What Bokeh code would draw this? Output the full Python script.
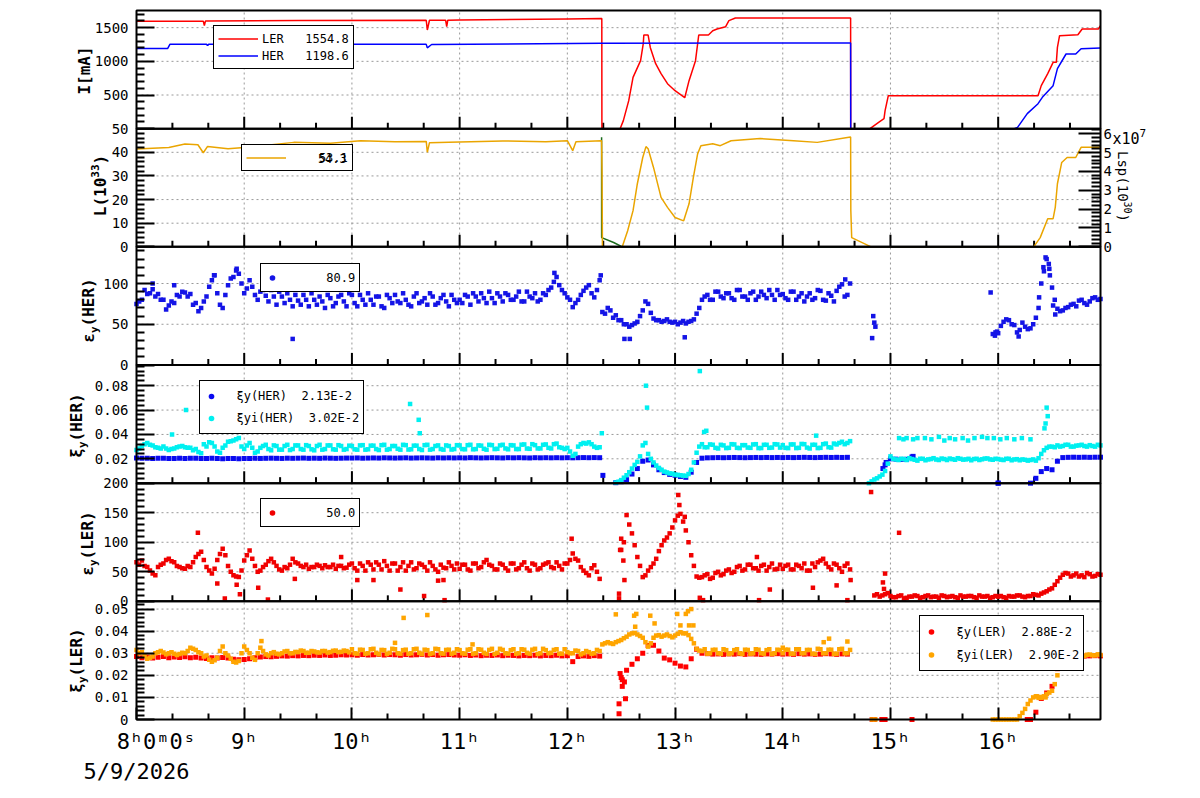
import math
import numpy as np
from bokeh.plotting import figure
from bokeh.models import (Range1d, LinearAxis, FixedTicker, Label, Legend, LegendItem,
                          BoxAnnotation)
from bokeh.embed import file_html
from bokeh.resources import INLINE

nan = float("nan")

# ---------------------------------------------------------------- data
# sampling clocks of the optics monitors (hours of the day, two interleaved readouts)
T_GRID = [round(8.0 + 0.05 * i, 2) for i in range(180)]
T_GRID_B = [round(8.025 + 0.05 * i, 3) for i in range(180)]

# beam currents [mA] (vertices)
I_LER_T = [8.00, 8.62, 8.63, 8.64, 9.50, 10.69, 10.70, 10.72, 10.87, 10.88, 10.89, 11.00,
           12.00, 12.32, 12.321, 12.49, 12.52, 12.57, 12.61, 12.68, 12.705, 12.71, 12.75,
           12.77, 12.82, 12.87, 12.93, 13.00, 13.09, 13.13, 13.19, 13.22, 13.31, 13.35,
           13.39, 13.47, 13.50, 13.56, 14.63, 14.631, 14.81, 14.89, 14.94, 14.95, 14.98,
           16.37, 16.40, 16.46, 16.51, 16.54, 16.55, 16.57, 16.74, 16.78, 16.93, 16.95]
I_LER = [1595, 1597, 1530, 1598, 1605, 1610, 1465, 1610, 1612, 1515, 1612, 1615,
         1630, 1635, 0, 0, 119, 416, 762, 1010, 1262, 1391, 1391,
         1207, 965, 817, 668, 564, 460, 713, 1010, 1391, 1391, 1455,
         1480, 1515, 1604, 1644, 1644, 0, 0, 94, 148, 267, 490,
         490, 639, 817, 985, 985, 1207, 1381, 1396, 1480, 1480, 1530]
I_HER_T = [8.00, 8.29, 8.31, 8.65, 8.66, 8.67, 10.69, 10.70, 10.74, 12.32, 14.63, 14.631,
           16.15, 16.18, 16.27, 16.37, 16.41, 16.51, 16.55, 16.63, 16.72, 16.77, 16.95]
I_HER = [1192, 1192, 1252, 1252, 1235, 1252, 1252, 1200, 1250, 1268, 1272, 0,
         0, 19, 223, 371, 465, 639, 891, 1109, 1109, 1188, 1198]

# luminosity L [1e33] and Lsp [1e37]
L_T = [8.00, 8.30, 8.45, 8.57, 8.62, 8.66, 8.85, 9.00, 9.02, 9.10,
       9.46, 9.80, 10.08, 10.40, 10.69, 10.70, 10.72, 10.90, 11.40, 11.80,
       12.00, 12.05, 12.08, 12.318, 12.322, 12.326, 12.51, 12.56, 12.61, 12.65,
       12.70, 12.73, 12.75, 12.80, 12.87, 12.93, 13.00, 13.08, 13.13, 13.17,
       13.21, 13.24, 13.35, 13.42, 13.52, 13.79, 14.10, 14.32, 14.60, 14.63,
       14.632, 14.64, 14.82, 16.33, 16.39, 16.46, 16.51, 16.53, 16.55, 16.59,
       16.64, 16.72, 16.77, 16.93, 16.95]
L_VAL = [41.4, 42.0, 43.5, 43.2, 39.8, 42.5, 41.5, 42.0, 40.4, 42.5,
         44.2, 43.8, 44.9, 44.5, 44.6, 40.0, 44.0, 44.2, 44.8, 44.5,
         44.9, 40.7, 44.5, 44.9, 31.5, 0.0, 0.0, 6.8, 15.3, 26.7,
         37.8, 42.4, 41.5, 33.6, 20.9, 16.7, 12.4, 11.0, 18.2, 29.4,
         39.4, 42.8, 43.6, 42.8, 44.9, 45.8, 44.9, 44.2, 46.3, 46.5,
         15.3, 3.9, 0.0, 0.0, 3.9, 11.9, 11.9, 16.7, 26.7, 35.7,
         37.8, 37.8, 42.1, 42.1, 42.5]
LSP_T = [12.318, 12.3185, 12.43, 12.51, 16.95]
LSP_VAL = [5.81, 0.49, 0.23, 0.0, 0.0]

# vertical emittance HER (one row per hour 8h..16h)
EY_HER = [75, 80, 87, 93, 87, 80, 73, 76, 84, 89, 87, 76, 70, 84, 104, 88, 70, 98, 108, 112,
          88, 104, 86, 90, 85, 92, 74, 84, 88, 72, 79, 86, 72, 80, 84, 70, 82, 76, 86, 72,
          86, 72, 80, 88, 74, 84, 70, 82, 86, 76, 80, 72, 88, 78, 74, 84, 76, 86, 72, 80,
          80, 86, 74, 84, 88, 76, 82, 88, 78, 86, 80, 90, 78, 84, 88, 80, 86, 95, 108, 92,
          83, 71, 80, 91, 98, 83, 104, 63, 67, 61, 55, 50, 49, 53, 67, 75, 57, 55, 54, 53,
          53, 52, 51, 54, 63, 80, 86, 80, 90, 82, 88, 80, 92, 84, 88, 80, 90, 82, 86, 92,
          87, 80, 90, 84, 78, 88, 82, 91, 79, 85, 91, 99, 86, nan, nan, nan, nan, nan, nan, nan,
          nan, nan, nan, nan, nan, nan, nan, nan, nan, nan, nan, nan, nan, nan, nan, nan, nan, nan, nan, nan,
          39, 53, 55, 49, 43, 47, 45, 58, 100, 130, 95, 69, 67, 71, 75, 79, 76, 78, 83, 81]
EY_HER_B = [78, 92, 88, 84, 80, 68, 78, 86, 90, 84, 74, 66, 78, 96, 110, 74, 86, 106, 116, 100,
            94, 96, 80, 92, 78, 84, 90, 76, 80, 86, 74, 80, 88, 74, 78, 86, 72, 84, 78, 88,
            76, 86, 74, 80, 84, 72, 86, 76, 78, 88, 74, 84, 76, 82, 88, 74, 82, 78, 86, 76,
            76, 84, 88, 78, 82, 90, 76, 84, 88, 80, 84, 78, 90, 82, 78, 88, 92, 102, 98, 88,
            80, 76, 86, 95, 88, 92, 65, 70, 58, 55, 50, 47, 51, 60, 78, 64, 55, 53, 56, 52,
            50, 54, 53, 56, 70, 84, 80, 90, 84, 88, 82, 92, 84, 80, 90, 84, 86, 92, 80, 86,
            82, 90, 80, 88, 84, 80, 92, 80, 88, 78, 96, 84, 100, nan, nan, nan, nan, nan, nan, nan,
            nan, nan, nan, nan, nan, nan, nan, nan, nan, nan, nan, nan, nan, nan, nan, nan, nan, nan, nan, 40,
            48, 56, 50, 40, 52, 44, 50, 70, 115, 118, 80, 66, 70, 74, 72, 80, 74, 82, 80, nan]
EY_HER_OUT_T = [8.15, 8.35, 8.72, 8.93, 9.45, 11.88, 12.31, 12.53, 12.58, 13.09, 14.58, 14.83,
                14.84, 14.85, 14.86, 15.93, 15.95, 15.97, 15.99, 16.19, 16.38, 16.42, 16.44,
                16.47, 16.48, 16.51, 16.53]
EY_HER_OUT = [100, 98, 110, 118, 32, 113, 110, 32, 32, 34, 105, 33,
              60, 52, 47, 89, 38, 36, 41, 35, 83, 120, 132,
              124, 110, 73, 62]

# beam-beam parameters HER
XI_HER = [0.0206, 0.0204, 0.0205, 0.0203, 0.0204, 0.0205, 0.0203, 0.0202, 0.0204, 0.0203, 0.0205, 0.0204, 0.0202, 0.0203, 0.0204, 0.0202, 0.0201, 0.0202, 0.0203, 0.0201,
          0.0202, 0.0203, 0.0204, 0.0203, 0.0204, 0.0205, 0.0204, 0.0203, 0.0205, 0.0204, 0.0205, 0.0206, 0.0204, 0.0205, 0.0204, 0.0206, 0.0205, 0.0204, 0.0205, 0.0206,
          0.0206, 0.0207, 0.0205, 0.0206, 0.0207, 0.0206, 0.0208, 0.0207, 0.0206, 0.0207, 0.0208, 0.0206, 0.0207, 0.0208, 0.0207, 0.0206, 0.0208, 0.0207, 0.0208, 0.0207,
          0.0208, 0.0207, 0.0209, 0.0208, 0.0207, 0.0208, 0.0209, 0.0208, 0.0207, 0.0209, 0.0208, 0.0209, 0.0208, 0.0207, 0.0209, 0.0208, 0.0209, 0.0208, 0.0209, 0.0208,
          0.0209, 0.0208, 0.0209, 0.0210, 0.0209, 0.0210, 0.0209, nan, nan, 0.0004, 0.0012, 0.0030, 0.0075, 0.0120, 0.0180, 0.0190, 0.0150, 0.0110, 0.0087, 0.0072,
          0.0065, 0.0055, 0.0048, 0.0090, 0.0170, 0.0205, 0.0208, 0.0209, 0.0210, 0.0209, 0.0210, 0.0211, 0.0210, 0.0209, 0.0210, 0.0211, 0.0210, 0.0211, 0.0210, 0.0211,
          0.0210, 0.0211, 0.0210, 0.0211, 0.0212, 0.0211, 0.0210, 0.0211, 0.0212, 0.0211, 0.0212, 0.0211, 0.0212, nan, nan, nan, nan, nan, nan, 0.0150,
          0.0200, 0.0197, 0.0195, 0.0196, 0.0215, nan, nan, nan, nan, nan, nan, nan, nan, nan, nan, nan, nan, nan, nan, nan,
          0.0000, nan, nan, nan, nan, nan, 0.0000, 0.0040, 0.0095, 0.0120, 0.0110, 0.0180, 0.0210, 0.0212, 0.0213, 0.0212, 0.0213, 0.0212, 0.0213, 0.0213]
XI_HER_OUT_T = [12.33, 14.93, 14.96, 15.21, 16.00]
XI_HER_OUT = [0.0064, 0.0120, 0.0170, 0.0220, 0.0]

XII_HER = [0.0272, 0.0305, 0.0330, 0.0310, 0.0290, 0.0300, 0.0272, 0.0285, 0.0300, 0.0295, 0.0290, 0.0280, 0.0245, 0.0300, 0.0330, 0.0260, 0.0290, 0.0340, 0.0350, 0.0370,
           0.0280, 0.0330, 0.0250, 0.0290, 0.0315, 0.0270, 0.0305, 0.0275, 0.0315, 0.0280, 0.0310, 0.0275, 0.0305, 0.0270, 0.0315, 0.0280, 0.0310, 0.0275, 0.0305, 0.0280,
           0.0305, 0.0275, 0.0312, 0.0278, 0.0308, 0.0272, 0.0315, 0.0280, 0.0305, 0.0275, 0.0312, 0.0278, 0.0308, 0.0272, 0.0315, 0.0280, 0.0310, 0.0275, 0.0305, 0.0280,
           0.0310, 0.0278, 0.0315, 0.0280, 0.0308, 0.0275, 0.0312, 0.0282, 0.0315, 0.0278, 0.0310, 0.0280, 0.0318, 0.0282, 0.0312, 0.0285, 0.0318, 0.0285, 0.0325, 0.0290,
           0.0290, 0.0225, 0.0300, 0.0330, 0.0335, 0.0300, 0.0295, nan, nan, 0.0005, 0.0025, 0.0065, 0.0120, 0.0175, 0.0310, 0.0240, 0.0170, 0.0125, 0.0095, 0.0080,
           0.0070, 0.0065, 0.0060, 0.0110, 0.0250, 0.0320, 0.0295, 0.0315, 0.0285, 0.0310, 0.0290, 0.0318, 0.0288, 0.0312, 0.0290, 0.0320, 0.0288, 0.0315, 0.0292, 0.0318,
           0.0312, 0.0288, 0.0318, 0.0290, 0.0320, 0.0285, 0.0315, 0.0290, 0.0325, 0.0292, 0.0318, 0.0340, 0.0330, nan, nan, nan, 0.0000, 0.0030, 0.0055, 0.0100,
           0.0220, 0.0195, 0.0200, 0.0190, 0.0198, 0.0185, 0.0200, 0.0195, 0.0205, 0.0190, 0.0198, 0.0202, 0.0192, 0.0200, 0.0195, 0.0188, 0.0200, 0.0196, 0.0203, 0.0192,
           0.0198, 0.0190, 0.0200, 0.0195, 0.0188, 0.0192, 0.0190, 0.0185, 0.0240, 0.0290, 0.0300, 0.0310, 0.0305, 0.0315, 0.0300, 0.0310, 0.0305, 0.0312, 0.0300, 0.0310]
XII_HER_B = [0.0285, 0.0320, 0.0315, 0.0295, 0.0285, 0.0285, 0.0280, 0.0295, 0.0305, 0.0290, 0.0270, 0.0255, 0.0320, 0.0335, 0.0300, 0.0250, 0.0310, 0.0345, 0.0360, 0.0300,
             0.0310, 0.0290, 0.0260, 0.0305, 0.0280, 0.0310, 0.0275, 0.0305, 0.0272, 0.0310, 0.0280, 0.0312, 0.0278, 0.0305, 0.0275, 0.0310, 0.0278, 0.0312, 0.0275, 0.0308,
             0.0278, 0.0310, 0.0275, 0.0308, 0.0280, 0.0312, 0.0275, 0.0305, 0.0282, 0.0315, 0.0276, 0.0308, 0.0280, 0.0312, 0.0275, 0.0305, 0.0280, 0.0310, 0.0276, 0.0312,
             0.0280, 0.0312, 0.0278, 0.0310, 0.0282, 0.0315, 0.0280, 0.0310, 0.0285, 0.0312, 0.0280, 0.0316, 0.0284, 0.0320, 0.0285, 0.0315, 0.0290, 0.0320, 0.0295, 0.0280,
             0.0260, 0.0240, 0.0320, 0.0325, 0.0320, 0.0290, nan, nan, nan, 0.0012, 0.0045, 0.0090, 0.0150, 0.0220, 0.0330, 0.0200, 0.0145, 0.0110, 0.0088, 0.0078,
             0.0068, 0.0062, 0.0075, 0.0170, 0.0300, 0.0295, 0.0318, 0.0290, 0.0315, 0.0288, 0.0320, 0.0290, 0.0312, 0.0292, 0.0318, 0.0288, 0.0315, 0.0290, 0.0320, 0.0292,
             0.0290, 0.0318, 0.0288, 0.0322, 0.0292, 0.0315, 0.0288, 0.0320, 0.0295, 0.0325, 0.0330, 0.0320, 0.0345, nan, nan, nan, 0.0015, 0.0040, 0.0070, 0.0160,
             0.0200, 0.0190, 0.0198, 0.0205, 0.0192, 0.0200, 0.0188, 0.0198, 0.0194, 0.0202, 0.0190, 0.0197, 0.0205, 0.0193, 0.0200, 0.0198, 0.0190, 0.0202, 0.0195, 0.0200,
             0.0193, 0.0200, 0.0188, 0.0197, 0.0195, 0.0185, 0.0195, 0.0205, 0.0270, 0.0300, 0.0295, 0.0300, 0.0315, 0.0300, 0.0308, 0.0315, 0.0300, 0.0305, 0.0315, nan]
XII_HER_OUT_T = [8.33, 8.46, 10.54, 10.62, 10.63, 12.32, 12.73, 12.74, 13.23, 13.27, 13.29, 14.31,
                 15.08, 15.12, 15.15, 15.21, 15.25, 15.32, 15.38, 15.45, 15.50, 15.55, 15.60,
                 15.67, 15.72, 15.78, 15.85, 15.90, 15.96, 16.02, 16.08, 16.15, 16.22, 16.30,
                 16.43, 16.44, 16.45, 16.46]
XII_HER_OUT = [0.040, 0.060, 0.065, 0.052, 0.041, 0.041, 0.080, 0.062, 0.092, 0.042, 0.043, 0.039,
               0.037, 0.036, 0.037, 0.036, 0.037, 0.037, 0.036, 0.038, 0.035, 0.037, 0.036,
               0.037, 0.035, 0.037, 0.038, 0.037, 0.037, 0.036, 0.037, 0.036, 0.037, 0.036,
               0.045, 0.049, 0.062, 0.055]

# vertical emittance LER
EY_LER = [66, 69, 58, 47, 58, 64, 72, 66, 58, 55, 58, 75, 84, 58, 47, 70, 89, 60, 44, 41,
          69, 86, 60, 52, 62, 72, 60, 52, 56, 72, 64, 58, 55, 58, 60, 61, 58, 55, 60, 57,
          64, 52, 60, 66, 54, 62, 68, 52, 64, 58, 52, 66, 56, 62, 52, 60, 50, 57, 66, 54,
          55, 62, 52, 64, 58, 70, 60, 54, 62, 52, 64, 56, 66, 52, 62, 56, 64, 58, 66, 54,
          64, 81, 69, 52, 44, 61, 38, nan, nan, nan, 87, 146, 115, 75, 41, 52, 64, 85, 103, 115,
          137, 148, 120, 78, 42, 41, 46, 40, 50, 46, 54, 50, 60, 54, 62, 56, 60, 52, 64, 55,
          55, 62, 54, 60, 64, 52, 58, 69, 64, 54, 62, 50, 64, nan, nan, nan, nan, 10, 8, 12,
          9, 7, 10, 6, 8, 9, 7, 10, 8, 6, 9, 8, 7, 10, 8, 9, 6, 8, 9, 7,
          8, 7, 9, 8, 10, 7, 9, 11, 13, 17, 22, 34, 45, 47, 44, 42, 41, 46, 43, 45]
EY_LER_B = [62, 60, 52, 44, 62, 70, 68, 60, 56, 60, 66, 80, 70, 52, 55, 80, 78, 50, 42, 52,
            78, 72, 50, 58, 68, 66, 54, 58, 62, 66, 60, 62, 58, 62, 56, 58, 62, 60, 56, 62,
            56, 64, 52, 62, 66, 54, 60, 64, 52, 66, 60, 54, 64, 58, 66, 54, 62, 56, 60, 64,
            62, 54, 64, 56, 66, 62, 54, 64, 56, 64, 54, 62, 56, 64, 54, 62, 66, 56, 60, 64,
            70, 72, 58, 48, 56, 50, nan, nan, nan, nan, 100, 130, 95, 60, 44, 58, 72, 95, 108, 125,
            145, 135, 100, 60, 40, 44, 38, 48, 44, 52, 48, 58, 52, 62, 56, 52, 62, 58, 54, 62,
            60, 54, 62, 56, 52, 64, 66, 72, 58, 64, 56, 60, 54, nan, nan, nan, nan, 12, 10, 14,
            7, 9, 5, 8, 10, 6, 9, 7, 8, 10, 7, 9, 6, 8, 9, 7, 10, 8, 6, 9,
            9, 6, 8, 10, 8, 9, 12, 10, 15, 20, 28, 40, 48, 42, 47, 44, 48, 42, 46, nan]
EY_LER_OUT_T = [8.57, 8.75, 8.82, 8.93, 8.96, 9.13, 9.22, 9.47, 9.90, 10.05, 10.20, 10.45,
                10.67, 10.80, 10.85, 10.86, 12.04, 12.48, 12.48, 12.49, 12.50, 12.52, 12.53,
                13.03, 13.04, 13.09, 13.23, 13.26, 13.76, 13.78, 13.88, 14.28, 14.50, 14.60,
                14.63, 14.82, 14.93, 14.94, 14.95, 15.08]
EY_LER_OUT = [116, 30, 5, 28, 12, 23, 3, 38, 75, 36, 36, 20,
              9, 35, 36, 2, 106, 13, 5, 87, 106, 69, 36,
              180, 163, 143, 6, 2, 75, 2, 20, 23, 27, 2,
              36, 185, 32, 21, 47, 116]

# beam-beam parameters LER
XI_LER = [0.0285, 0.0280, 0.0283, 0.0278, 0.0282, 0.0285, 0.0280, 0.0283, 0.0281, 0.0284, 0.0280, 0.0282, 0.0278, 0.0276, 0.0280, 0.0279, 0.0281, 0.0278, 0.0273, 0.0271,
          0.0272, 0.0275, 0.0280, 0.0283, 0.0285, 0.0284, 0.0286, 0.0288, 0.0287, 0.0289, 0.0288, 0.0290, 0.0289, 0.0291, 0.0290, 0.0292, 0.0290, 0.0291, 0.0293, 0.0292,
          0.0293, 0.0291, 0.0294, 0.0292, 0.0293, 0.0295, 0.0292, 0.0294, 0.0293, 0.0291, 0.0294, 0.0292, 0.0293, 0.0295, 0.0292, 0.0294, 0.0291, 0.0293, 0.0294, 0.0292,
          0.0291, 0.0293, 0.0290, 0.0292, 0.0289, 0.0291, 0.0290, 0.0292, 0.0289, 0.0291, 0.0290, 0.0288, 0.0290, 0.0289, 0.0291, 0.0288, 0.0290, 0.0289, 0.0291, 0.0288,
          0.0289, 0.0262, 0.0285, 0.0288, 0.0286, 0.0289, 0.0287, nan, nan, nan, 0.0190, 0.0223, 0.0250, 0.0275, 0.0300, 0.0335, 0.0336, 0.0310, 0.0278, 0.0270,
          0.0255, 0.0242, 0.0238, 0.0275, 0.0318, 0.0300, 0.0298, 0.0296, 0.0297, 0.0295, 0.0297, 0.0296, 0.0298, 0.0295, 0.0297, 0.0296, 0.0295, 0.0297, 0.0296, 0.0298,
          0.0296, 0.0297, 0.0295, 0.0298, 0.0296, 0.0297, 0.0295, 0.0296, 0.0298, 0.0297, 0.0295, 0.0297, 0.0296, nan, nan, nan, nan, nan, nan, nan,
          nan, nan, nan, nan, nan, nan, nan, nan, nan, nan, nan, nan, nan, nan, nan, nan, nan, nan, nan, nan,
          nan, nan, nan, nan, nan, nan, 0.0000, 0.0033, 0.0095, 0.0120, 0.0150, 0.0230, 0.0285, 0.0290, 0.0288, 0.0289, 0.0287, 0.0288, 0.0289, 0.0288]
XI_LER_OUT_T = [12.48, 12.48, 12.49, 12.51, 12.51, 12.53, 12.54, 14.83, 14.85, 14.92, 14.95, 15.20, 16.27]
XI_LER_OUT = [0.0026, 0.0071, 0.0208, 0.0150, 0.0180, 0.0170, 0.0094, 0.0, 0.0, 0.0, 0.0, 0.0, 0.0]

XII_LER = [0.0315, 0.0305, 0.0275, 0.0285, 0.0305, 0.0303, 0.0300, 0.0298, 0.0297, 0.0300, 0.0325, 0.0315, 0.0300, 0.0290, 0.0262, 0.0280, 0.0330, 0.0290, 0.0262, 0.0265,
           0.0330, 0.0300, 0.0270, 0.0325, 0.0295, 0.0300, 0.0298, 0.0300, 0.0310, 0.0300, 0.0305, 0.0310, 0.0302, 0.0308, 0.0303, 0.0310, 0.0305, 0.0312, 0.0306, 0.0310,
           0.0318, 0.0298, 0.0315, 0.0300, 0.0320, 0.0296, 0.0314, 0.0302, 0.0318, 0.0298, 0.0316, 0.0300, 0.0320, 0.0297, 0.0314, 0.0300, 0.0318, 0.0298, 0.0316, 0.0302,
           0.0314, 0.0298, 0.0318, 0.0300, 0.0316, 0.0297, 0.0320, 0.0302, 0.0315, 0.0298, 0.0318, 0.0300, 0.0316, 0.0298, 0.0320, 0.0300, 0.0314, 0.0302, 0.0318, 0.0298,
           0.0305, 0.0300, 0.0310, 0.0300, 0.0305, 0.0300, 0.0310, 0.0345, 0.0345, 0.0350, 0.0360, 0.0375, 0.0390, 0.0385, 0.0370, 0.0330, 0.0370, 0.0382, 0.0380, 0.0378,
           0.0380, 0.0395, 0.0390, 0.0365, 0.0320, 0.0310, 0.0298, 0.0315, 0.0300, 0.0318, 0.0297, 0.0314, 0.0300, 0.0316, 0.0298, 0.0318, 0.0300, 0.0314, 0.0297, 0.0316,
           0.0300, 0.0316, 0.0298, 0.0318, 0.0300, 0.0315, 0.0297, 0.0318, 0.0300, 0.0316, 0.0298, 0.0320, 0.0300, nan, nan, nan, nan, nan, nan, nan,
           nan, nan, nan, nan, nan, nan, nan, nan, nan, nan, nan, nan, nan, nan, nan, nan, nan, nan, nan, 0.0000,
           0.0000, 0.0000, 0.0000, 0.0000, 0.0015, 0.0048, 0.0086, 0.0105, 0.0098, 0.0115, 0.0130, 0.0200, 0.0275, 0.0295, 0.0290, 0.0293, 0.0288, 0.0294, 0.0290, 0.0292]
XII_LER_B = [0.0300, 0.0290, 0.0280, 0.0300, 0.0310, 0.0295, 0.0305, 0.0292, 0.0302, 0.0310, 0.0320, 0.0305, 0.0285, 0.0270, 0.0268, 0.0310, 0.0300, 0.0275, 0.0258, 0.0300,
             0.0315, 0.0280, 0.0300, 0.0310, 0.0290, 0.0305, 0.0295, 0.0308, 0.0300, 0.0306, 0.0312, 0.0302, 0.0310, 0.0304, 0.0310, 0.0303, 0.0311, 0.0305, 0.0312, 0.0304,
             0.0300, 0.0316, 0.0298, 0.0318, 0.0302, 0.0315, 0.0297, 0.0320, 0.0300, 0.0314, 0.0298, 0.0318, 0.0302, 0.0316, 0.0297, 0.0320, 0.0300, 0.0315, 0.0298, 0.0318,
             0.0300, 0.0316, 0.0298, 0.0318, 0.0302, 0.0315, 0.0297, 0.0320, 0.0300, 0.0314, 0.0298, 0.0318, 0.0302, 0.0316, 0.0297, 0.0320, 0.0300, 0.0315, 0.0298, 0.0318,
             0.0300, 0.0312, 0.0295, 0.0310, 0.0298, 0.0315, 0.0340, 0.0350, 0.0342, 0.0355, 0.0368, 0.0385, 0.0392, 0.0378, 0.0350, 0.0345, 0.0380, 0.0375, 0.0385, 0.0372,
             0.0388, 0.0390, 0.0382, 0.0345, 0.0312, 0.0318, 0.0300, 0.0316, 0.0298, 0.0314, 0.0300, 0.0318, 0.0297, 0.0315, 0.0300, 0.0316, 0.0298, 0.0318, 0.0300, 0.0314,
             0.0316, 0.0298, 0.0318, 0.0300, 0.0315, 0.0298, 0.0320, 0.0300, 0.0316, 0.0297, 0.0318, 0.0300, 0.0315, nan, nan, nan, nan, nan, nan, nan,
             nan, nan, nan, nan, nan, nan, nan, nan, nan, nan, nan, nan, nan, nan, nan, nan, nan, nan, nan, 0.0000,
             0.0000, 0.0000, 0.0000, 0.0000, 0.0030, 0.0070, 0.0100, 0.0098, 0.0105, 0.0122, 0.0160, 0.0240, 0.0290, 0.0292, 0.0296, 0.0289, 0.0293, 0.0291, 0.0295, nan]
XII_LER_OUT_T = [9.16, 10.40, 10.48, 10.70, 11.12, 12.45, 12.62, 12.63, 12.64, 12.77, 12.81, 13.02,
                 13.05, 13.10, 13.12, 13.13, 13.15, 13.17, 14.00, 14.38, 14.43, 14.60, 14.83,
                 14.86, 16.36, 16.40, 16.44]
XII_LER_OUT = [0.0355, 0.0347, 0.0460, 0.0473, 0.0340, 0.0476, 0.0470, 0.0420, 0.0478, 0.0470, 0.0435, 0.0478,
               0.0426, 0.0478, 0.0490, 0.0426, 0.0500, 0.0426, 0.0325, 0.0350, 0.0366, 0.0353, 0.0,
               0.0, 0.0105, 0.0102, 0.0100]

# axis ticks
HOURS = [8, 9, 10, 11, 12, 13, 14, 15, 16]
HOUR_LABELS = ["\u00a0\u00a0\u00a08\u02b00\u1d500\u02e2\n5/9/2026", "9\u02b0", "10\u02b0", "11\u02b0",
               "12\u02b0", "13\u02b0", "14\u02b0", "15\u02b0", "16\u02b0"]

# panel: key, slot from bottom, range, major ticks, tick labels, minor step
PANELS = [
    ("I", 5, (0, 1755), [0, 500, 1000, 1500], ["0", "500", "1000", "1500"], 100),
    ("L", 4, (0, 50), [0, 10, 20, 30, 40, 50], ["0", "10", "20", "30", "40", "50"], 2),
    ("EH", 3, (0, 145), [0, 50, 100], ["0", "50", "100"], 10),
    ("XH", 2, (0, 0.097), [0, 0.02, 0.04, 0.06, 0.08], ["0", "0.02", "0.04", "0.06", "0.08"], 0.004),
    ("EL", 1, (0, 200), [0, 50, 100, 150, 200], ["0", "50", "100", "150", "200"], 10),
    ("XL", 0, (0, 0.0535), [0, 0.01, 0.02, 0.03, 0.04, 0.05], ["0", "0.01", "0.02", "0.03", "0.04", "0.05"], 0.002),
]
LSP_RANGE = (0, 6.27)
LSP_TICKS = [0, 1, 2, 3, 4, 5, 6]

# ---------------------------------------------------------------- layout
FONT = "DejaVu Sans Mono"
W, H = 1200, 798
NSLOT = 6
FRAME_TOP, FRAME_BOTTOM, FRAME_LEFT, FRAME_RIGHT = 10, 719, 136, 1100
T0, T1 = 8.0, 16.95
PX_SLOT = (FRAME_BOTTOM - FRAME_TOP) / NSLOT
PX_HOUR = (FRAME_RIGHT - FRAME_LEFT) / (T1 - T0)
Y0 = -(H - FRAME_BOTTOM) / PX_SLOT
Y1 = NSLOT + FRAME_TOP / PX_SLOT

p = figure(width=W, height=H,
           x_range=Range1d(T0 - FRAME_LEFT / PX_HOUR, T1 + (W - FRAME_RIGHT) / PX_HOUR),
           y_range=Range1d(Y0, Y1),
           x_axis_type=None, y_axis_type=None, output_backend="svg", toolbar_location=None,
           min_border=0, outline_line_color=None,
           background_fill_color="white", border_fill_color="white")


def stacked(slot, lo, hi):
    span = hi - lo
    return Range1d(start=lo + (Y0 - slot) * span, end=lo + (Y1 - slot) * span)


for key, slot, (lo, hi), *_ in PANELS:
    p.extra_y_ranges[key] = stacked(slot, lo, hi)
p.extra_y_ranges["LSP"] = stacked(4, *LSP_RANGE)

# combined left axis ticks
major_pos, minor_pos, grid_pos, overrides = [], [], [], {}
for key, slot, (lo, hi), ticks, labels, mstep in PANELS:
    for v, lab in zip(ticks, labels):
        pos = round(slot + (v - lo) / (hi - lo), 9)
        if pos not in major_pos:
            major_pos.append(pos)
        overrides[pos] = lab
        if lo < v < hi:
            grid_pos.append(pos)
    for m in np.arange(lo, hi + 1e-12, mstep):
        if all(abs(m - t) > mstep * 0.1 for t in ticks):
            minor_pos.append(round(slot + (m - lo) / (hi - lo), 9))

tick_style = dict(major_tick_out=0, minor_tick_out=0, major_tick_line_width=2,
                  minor_tick_line_width=2, major_label_text_font=FONT,
                  major_label_text_color="black", axis_line_color=None)
lax = LinearAxis(fixed_location=T0, bounds=(0, NSLOT),
                 ticker=FixedTicker(ticks=sorted(major_pos), minor_ticks=minor_pos),
                 major_label_overrides=overrides, major_tick_in=18, minor_tick_in=8,
                 major_label_standoff=8, major_label_text_font_size="14px", **tick_style)
p.add_layout(lax, "left")

lsp_minor = [round(x, 2) for x in np.arange(0.2, 6.25, 0.2) if abs(x - round(x)) > 0.05]
rax = LinearAxis(y_range_name="LSP", fixed_location=T1, bounds=LSP_RANGE,
                 ticker=FixedTicker(ticks=LSP_TICKS, minor_ticks=lsp_minor),
                 major_tick_in=22, minor_tick_in=9, major_label_standoff=3,
                 major_label_text_font_size="14px", **tick_style)
p.add_layout(rax, "right")

minor_h = [h + f for h in HOURS for f in (1 / 3, 2 / 3) if h + f < T1]
bax = LinearAxis(fixed_location=0, bounds=(T0, T1),
                 ticker=FixedTicker(ticks=HOURS, minor_ticks=minor_h),
                 major_label_overrides=dict(zip(HOURS, HOUR_LABELS)),
                 major_tick_in=12, minor_tick_in=6, major_label_standoff=9,
                 major_label_text_font_size="22px", **tick_style)
p.add_layout(bax, "below")

# dotted grid inside the pads
GRID = dict(line_color="#999999", line_dash="2 3", line_width=1, level="underlay")
p.segment(x0=HOURS[1:], y0=[0] * 8, x1=HOURS[1:], y1=[NSLOT] * 8, **GRID)
p.segment(x0=[T0] * len(grid_pos), y0=grid_pos, x1=[T1] * len(grid_pos), y1=grid_pos, **GRID)

# pad frames and the inward time ticks on the upper pads
for k in range(NSLOT):
    p.add_layout(BoxAnnotation(left=T0, right=T1, bottom=k, top=k + 1, fill_alpha=0,
                               line_color="black", line_width=2, line_alpha=1))
for k in range(1, NSLOT):
    p.ray(x=HOURS[1:], y=[k] * len(HOURS[1:]), length=12, length_units="screen",
          angle=math.pi / 2, line_color="black", line_width=2)
    p.ray(x=minor_h, y=[k] * len(minor_h), length=6, length_units="screen",
          angle=math.pi / 2, line_color="black", line_width=2)

# ---------------------------------------------------------------- data glyphs
r_ler = p.line(I_LER_T, I_LER, y_range_name="I", line_color="#ff0000", line_width=1.5)
r_her = p.line(I_HER_T, I_HER, y_range_name="I", line_color="#0000ff", line_width=1.5)

p.line(LSP_T, LSP_VAL, y_range_name="LSP", line_color="#1a6b1a", line_width=1.5)
r_l = p.line(L_T, L_VAL, y_range_name="L", line_color="#eaa500", line_width=1.5)

SERIES = [
    (T_GRID + T_GRID_B + EY_HER_OUT_T, EY_HER + EY_HER_B + EY_HER_OUT, "EH", "#1414e6", 4.5),
    (T_GRID + XI_HER_OUT_T, XI_HER + XI_HER_OUT, "XH", "#0a0af0", 5),
    (T_GRID + T_GRID_B + XII_HER_OUT_T, XII_HER + XII_HER_B + XII_HER_OUT, "XH", "#00f0f0", 4.5),
    (T_GRID + T_GRID_B + EY_LER_OUT_T, EY_LER + EY_LER_B + EY_LER_OUT, "EL", "#f00000", 4.5),
    (T_GRID + XI_LER_OUT_T, XI_LER + XI_LER_OUT, "XL", "#ff0000", 5),
    (T_GRID + T_GRID_B + XII_LER_OUT_T, XII_LER + XII_LER_B + XII_LER_OUT, "XL", "#ffa500", 4.5),
]
for xs, ys, rng, col, sz in SERIES:
    p.scatter(xs, ys, y_range_name=rng, marker="square", size=sz, line_color=None, fill_color=col)


def dot(color):
    # legend sample only: a single missing point, nothing is drawn in the pads
    return p.scatter(x=[nan], y=[nan], marker="circle", size=6, line_color=None, fill_color=color)


blank = p.line(x=[nan], y=[nan], line_alpha=0)

# ---------------------------------------------------------------- legends
NB = "\u00a0"


def legend(items, left, bottom, gw, rowh, bg=True):
    lg = Legend(items=[LegendItem(label=t, renderers=[r]) for t, r in items],
                location=(left, H - bottom),
                glyph_width=gw, glyph_height=rowh, label_height=rowh, label_standoff=4,
                padding=4, spacing=0, margin=0, label_text_font=FONT,
                label_text_font_size="12px", label_text_color="black",
                border_line_color="black", border_line_width=1.5,
                border_line_alpha=1.0 if bg else 0.0,
                background_fill_color="white", background_fill_alpha=1.0 if bg else 0.0)
    p.add_layout(lg)


legend([("LER" + NB * 3 + "1554.8", r_ler), ("HER" + NB * 3 + "1198.6", r_her)], 213, 69, 40, 17)
legend([(NB * 4 + "53.1", r_l)], 241, 171, 40, 17)
legend([(NB * 4 + "54.3", blank)], 241, 171, 40, 17, bg=False)
legend([(NB * 6 + "80.9", dot("#1414e6"))], 260, 292, 14, 19)
legend([(NB * 2 + "\u03bey(HER)" + NB * 2 + "2.13E-2", dot("#0a0af0")),
        (NB * 2 + "\u03beyi(HER)" + NB * 2 + "3.02E-2", dot("#00f0f0"))], 199, 434, 14, 22)
legend([(NB * 6 + "50.0", dot("#f00000"))], 260, 527, 14, 19)
legend([(NB * 2 + "\u03bey(LER)" + NB * 2 + "2.88E-2", dot("#ff0000")),
        (NB * 2 + "\u03beyi(LER)" + NB * 2 + "2.90E-2", dot("#ffa500"))], 919, 671, 14, 23)

# ---------------------------------------------------------------- axis titles


def main_y(sy):
    return (FRAME_BOTTOM - sy) / PX_SLOT


CW = 0.602


def vertical_title(pieces, xc, yc, ccw=True, anchor=T0, anchor_px=FRAME_LEFT, bold=True):
    """pieces: (text, size, shift) -- shift > 0 lowers (subscript), < 0 raises."""
    total = sum(len(t) * CW * s for t, s, d in pieces)
    step, perp = (-1, 1) if ccw else (1, -1)
    sy = yc - step * total / 2
    for t, s, d in pieces:
        p.add_layout(Label(x=anchor, y=main_y(sy), x_offset=xc - anchor_px + perp * d,
                           angle=(math.pi / 2) if ccw else (-math.pi / 2),
                           text=t, text_font=FONT, text_font_size=f"{s}px",
                           text_font_style="bold" if bold else "normal",
                           text_align="left", text_baseline="middle", text_color="black"))
        sy += step * len(t) * CW * s


vertical_title([("I[mA]", 16, 0)], 84, 70)
vertical_title([("L(10", 16, 0), ("33", 11, -6), (")", 16, 0)], 100, 185)
vertical_title([("\u03b5", 16, 0), ("y", 11, 6), ("(HER)", 16, 0)], 88, 310)
vertical_title([("\u03be", 16, 0), ("y", 11, 6), ("(HER)", 16, 0)], 76, 425)
vertical_title([("\u03b5", 16, 0), ("y", 11, 6), ("(LER)", 16, 0)], 87, 543)
vertical_title([("\u03be", 16, 0), ("y", 11, 6), ("(LER)", 16, 0)], 76, 660)
vertical_title([("Lsp(10", 14, 0), ("30", 10, -5), (")", 14, 0)], 1122, 186, ccw=False,
               anchor=T1, anchor_px=FRAME_RIGHT, bold=False)

# multiplier of the right axis
p.add_layout(Label(x=T1, y=main_y(138), x_offset=12, text="x10", text_font=FONT,
                   text_font_size="15px", text_align="left", text_baseline="middle",
                   text_color="black"))
p.add_layout(Label(x=T1, y=main_y(132), x_offset=12 + 3 * CW * 15, text="7", text_font=FONT,
                   text_font_size="11px", text_align="left", text_baseline="middle",
                   text_color="black"))

open("out.html", "w").write(file_html(p, INLINE))
